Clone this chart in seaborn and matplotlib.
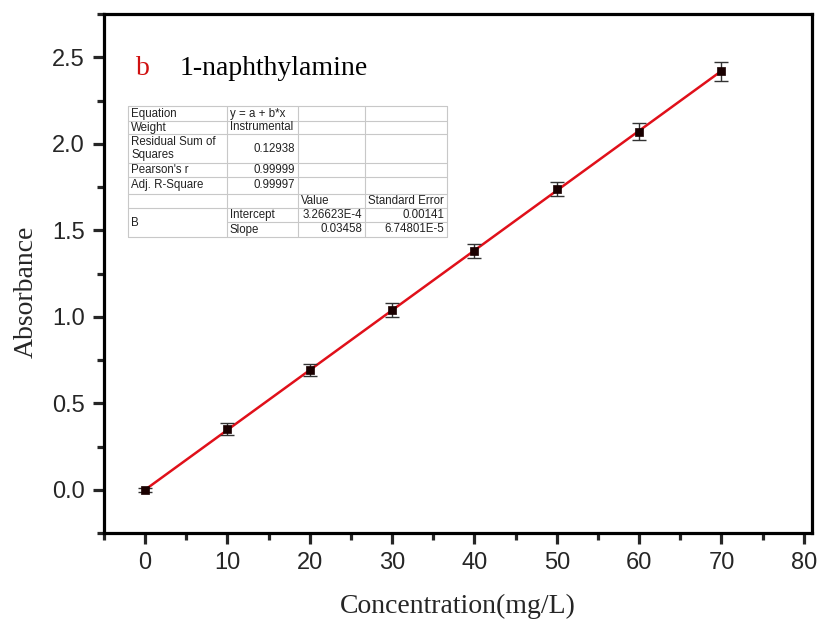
import numpy as np
import matplotlib.pyplot as plt
import seaborn as sns
from matplotlib.ticker import MultipleLocator

# data
conc = [0, 10, 20, 30, 40, 50, 60, 70]
absorb = [0.0, 0.35, 0.69, 1.04, 1.38, 1.74, 2.07, 2.42]
err = [0.012, 0.035, 0.035, 0.04, 0.04, 0.04, 0.05, 0.055]

# fit results shown in the table
intercept = 3.26623e-4
slope = 0.03458

table_rows = [
    ["Equation", "y = a + b*x", "", ""],
    ["Weight", "Instrumental", "", ""],
    ["Residual Sum of\nSquares", "0.12938", "", ""],
    ["Pearson's r", "0.99999", "", ""],
    ["Adj. R-Square", "0.99997", "", ""],
    ["", "", "Value", "Standard Error"],
    ["B", "Intercept", "3.26623E-4", "0.00141"],
    ["", "Slope", "0.03458", "6.74801E-5"],
]

sns.set_style("ticks")
plt.rcParams['font.family'] = ['Liberation Sans', 'DejaVu Sans']

fig = plt.figure(figsize=(8.27, 6.25), dpi=100)
ax = fig.add_axes([104 / 827, 1 - 533 / 625, 708 / 827, 519 / 625])

fit_x = np.array([conc[0], conc[-1]])
sns.lineplot(x=fit_x, y=intercept + slope * fit_x, color='#e0101a', linewidth=1.8, ax=ax, zorder=2)
ax.errorbar(conc, absorb, yerr=err, fmt='none', ecolor='#333333', elinewidth=1.0,
            capsize=5, capthick=1.0, zorder=3)
sns.scatterplot(x=conc, y=absorb, marker='s', s=30, color='#1a0000', edgecolor='#1a0000',
                linewidth=0.5, ax=ax, zorder=4)

ax.set_xlim(-5, 81)
ax.set_ylim(-0.25, 2.75)
ax.xaxis.set_major_locator(MultipleLocator(10))
ax.xaxis.set_minor_locator(MultipleLocator(5))
ax.yaxis.set_major_locator(MultipleLocator(0.5))
ax.yaxis.set_minor_locator(MultipleLocator(0.25))
ax.yaxis.set_major_formatter(plt.FormatStrFormatter('%.1f'))

for sp in ax.spines.values():
    sp.set_linewidth(2.3)
    sp.set_color('black')
ax.tick_params(which='major', direction='out', length=8, width=2.3, labelsize=17, pad=6)
ax.tick_params(which='minor', direction='out', length=5, width=2.3)

ax.set_xlabel('Concentration(mg/L)', family='Liberation Serif', fontsize=20, labelpad=14)
ax.set_ylabel('Absorbance', family='Liberation Serif', fontsize=20)
ax.yaxis.set_label_coords(-0.092, 0.465)

ax.text(0.045, 0.895, 'b', transform=ax.transAxes, color='#d01010', family='Liberation Serif',
        fontsize=20, va='center')
ax.text(0.107, 0.895, '1-naphthylamine', transform=ax.transAxes, color='black',
        family='Liberation Serif', fontsize=20, va='center')

# fit results table, drawn in pixel coordinates of the figure
col_edges = [128, 227, 298, 365, 447]
row_edges = [106, 121, 134, 163, 177, 194, 208, 222, 237]
W, H = 827, 625


def fx(px):
    return px / W


def fy(py):
    return 1 - py / H


grid = '#c8c8c8'
for i, y in enumerate(row_edges):
    x_start = col_edges[1] if i == 7 else col_edges[0]  # B spans two rows
    fig.add_artist(plt.Line2D([fx(x_start), fx(col_edges[-1])], [fy(y), fy(y)],
                              color=grid, lw=0.8))
for x in col_edges:
    fig.add_artist(plt.Line2D([fx(x), fx(x)], [fy(row_edges[0]), fy(row_edges[-1])],
                              color=grid, lw=0.8))

for r, row in enumerate(table_rows):
    y0, y1 = row_edges[r], row_edges[r + 1]
    for c, txt in enumerate(row):
        if not txt:
            continue
        if r == 6 and c == 0:
            yc = (row_edges[6] + row_edges[8]) / 2
        else:
            yc = (y0 + y1) / 2
        numeric = (r in (2, 3, 4) and c == 1) or (r in (6, 7) and c in (2, 3))
        if numeric:
            fig.text(fx(col_edges[c + 1] - 3), fy(yc), txt, ha='right', va='center',
                     fontsize=8.3, color='#222222')
        else:
            fig.text(fx(col_edges[c] + 3), fy(yc), txt, ha='left', va='center', fontsize=8.3,
                     color='#222222', linespacing=1.1)

fig.savefig('out.png', dpi=100)
